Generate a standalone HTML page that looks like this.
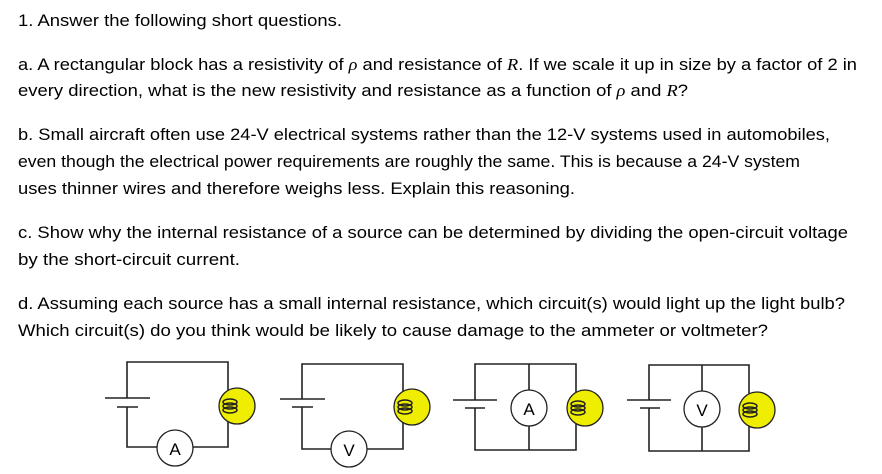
<!DOCTYPE html>
<html><head><meta charset="utf-8"><style>
html,body{margin:0;padding:0;background:#fff;width:882px;height:474px;overflow:hidden}
text{font-family:"Liberation Sans",sans-serif;font-size:17px;fill:#000}
</style></head><body>
<svg width="882" height="474" viewBox="0 0 882 474" xmlns="http://www.w3.org/2000/svg">
<text x="18" y="26" textLength="324" lengthAdjust="spacingAndGlyphs">1. Answer the following short questions.</text>
<text x="18" y="70" textLength="839" lengthAdjust="spacingAndGlyphs">a. A rectangular block has a resistivity of <tspan font-style="italic" font-family="Liberation Serif">ρ</tspan> and resistance of <tspan font-style="italic" font-family="Liberation Serif">R</tspan>. If we scale it up in size by a factor of 2 in</text>
<text x="18" y="96" textLength="670" lengthAdjust="spacingAndGlyphs">every direction, what is the new resistivity and resistance as a function of <tspan font-style="italic" font-family="Liberation Serif">ρ</tspan> and <tspan font-style="italic" font-family="Liberation Serif">R</tspan>?</text>
<text x="18" y="140" textLength="812" lengthAdjust="spacingAndGlyphs">b. Small aircraft often use 24-V electrical systems rather than the 12-V systems used in automobiles,</text>
<text x="18" y="167" textLength="782" lengthAdjust="spacingAndGlyphs">even though the electrical power requirements are roughly the same. This is because a 24-V system</text>
<text x="18" y="194" textLength="557" lengthAdjust="spacingAndGlyphs">uses thinner wires and therefore weighs less. Explain this reasoning.</text>
<text x="18" y="238" textLength="830" lengthAdjust="spacingAndGlyphs">c. Show why the internal resistance of a source can be determined by dividing the open-circuit voltage</text>
<text x="18" y="265" textLength="222" lengthAdjust="spacingAndGlyphs">by the short-circuit current.</text>
<text x="18" y="309" textLength="827" lengthAdjust="spacingAndGlyphs">d. Assuming each source has a small internal resistance, which circuit(s) would light up the light bulb?</text>
<text x="18" y="336" textLength="750" lengthAdjust="spacingAndGlyphs">Which circuit(s) do you think would be likely to cause damage to the ammeter or voltmeter?</text>

<defs>
<g id="bulb">
<circle r="18" fill="#f0ee00" stroke="#222" stroke-width="1.3"/>
<ellipse cx="-7" cy="-4" rx="7" ry="3" fill="none" stroke="#222" stroke-width="1.5"/>
<ellipse cx="-7" cy="0" rx="7" ry="3" fill="none" stroke="#222" stroke-width="1.5"/>
<ellipse cx="-7" cy="4" rx="7" ry="3" fill="none" stroke="#222" stroke-width="1.5"/>
</g>
</defs>
<g fill="none" stroke="#222" stroke-width="1.6">
<path d="M127 398 V362 H228 V447 H193 M157 447 H127 V407"/>
<line x1="105" y1="398" x2="150" y2="398"/><line x1="117" y1="407" x2="138" y2="407"/>
<path d="M302 399 V364 H403 V449 H367 M331 449 H302 V407"/>
<line x1="280" y1="399" x2="325" y2="399"/><line x1="292" y1="407" x2="313" y2="407"/>
<path d="M475 400 V364 H576 V450 H475 V408 M529 364 V390 M529 426 V450"/>
<line x1="453" y1="400" x2="497" y2="400"/><line x1="465" y1="408" x2="485" y2="408"/>
<path d="M649 400 V365 H749 V451 H649 V408 M702 365 V391 M702 427 V451"/>
<line x1="627" y1="400" x2="671" y2="400"/><line x1="640" y1="408" x2="660" y2="408"/>
</g>
<g fill="#fff" stroke="#222" stroke-width="1.3">
<circle cx="175" cy="448" r="18"/><circle cx="349" cy="449" r="18"/>
<circle cx="529" cy="408" r="18"/><circle cx="702" cy="409" r="18"/>
</g>
<text x="175" y="455" text-anchor="middle" font-size="18">A</text>
<text x="349" y="456" text-anchor="middle" font-size="18">V</text>
<text x="529" y="415" text-anchor="middle" font-size="18">A</text>
<text x="702" y="416" text-anchor="middle" font-size="18">V</text>
<use href="#bulb" x="237" y="406"/>
<use href="#bulb" x="412" y="407"/>
<use href="#bulb" x="585" y="408"/>
<use href="#bulb" x="757" y="410"/>
</svg>
</body></html>
